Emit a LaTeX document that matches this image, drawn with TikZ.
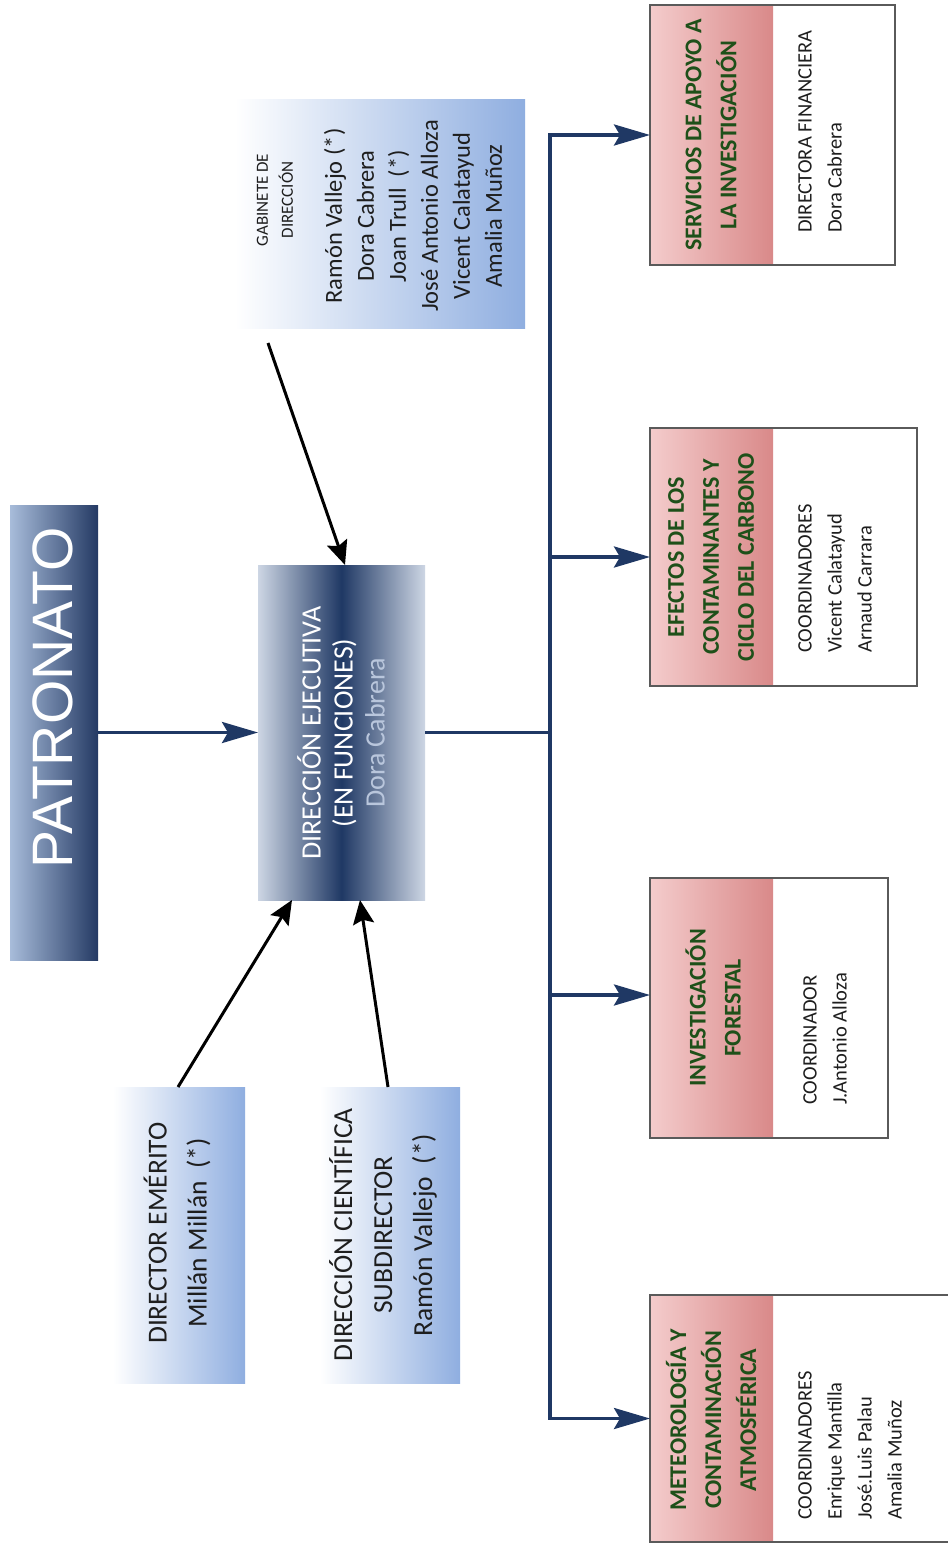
\documentclass[tikz,border=0pt]{standalone}
\usepackage{fontspec}
\setmainfont{Carlito}
\newfontfamily\arialf{Liberation Sans}
\usetikzlibrary{arrows.meta,calc}
\definecolor{navy}{RGB}{31,56,100}
\definecolor{patL}{RGB}{168,188,218}
\definecolor{patR}{RGB}{36,58,100}
\definecolor{dirE}{RGB}{205,214,228}
\definecolor{lblue}{RGB}{143,174,224}
\definecolor{redL}{RGB}{244,204,204}
\definecolor{redR}{RGB}{217,137,137}
\definecolor{tgreen}{RGB}{30,80,25}
\definecolor{bord}{RGB}{90,90,90}
\definecolor{dorac}{RGB}{185,198,220}
\definecolor{ink}{RGB}{30,30,30}
\begin{document}
\begin{tikzpicture}[x=1pt,y=-1pt,
 box/.style={rectangle, inner sep=0, outer sep=0, anchor=north west},
 bluebox/.style={box, left color=white, right color=lblue},
 redpart/.style={box, left color=redL, right color=redR},
 outline/.style={box, draw=bord, line width=1.3pt},
 txt/.style={rotate=90, align=center, inner sep=0},
 title/.style={txt, text=tgreen, font=\fontsize{24}{35}\selectfont\bfseries},
 content/.style={rotate=90, align=left, inner sep=0, anchor=north west, text=ink, font=\fontsize{20.5}{30}\selectfont},
 navyline/.style={draw=navy, line width=3.5pt},
 navyarrow/.style={navyline, -{Stealth[length=36pt,width=21pt,inset=6pt]}},
 blackarrow/.style={draw=black, line width=3pt, -{Stealth[length=24pt,width=21pt,inset=4pt]}},
]
\fill[white] (0,0) rectangle (947,1546);
\useasboundingbox (0,0) rectangle (947,1546);

% PATRONATO
\node[box, minimum width=88pt, minimum height=455pt, left color=patL, right color=patR] (pat) at (10,505) {};
\node[txt, text=white, font=\arialf\fontsize{57}{64}\selectfont] (patt) at (53,698) {PATRONATO};

% Direccion ejecutiva
\node[box, minimum width=167pt, minimum height=335pt, left color=dirE, right color=dirE, middle color=navy] (dir) at (258,565) {};
\node[txt, text=white, font=\fontsize{28}{32}\selectfont] (dirt) at (341,733) {DIRECCIÓN EJECUTIVA\\(EN FUNCIONES)\\\textcolor{dorac}{Dora Cabrera}};

% Gabinete
\node[bluebox, minimum width=290pt, minimum height=228pt] (gab) at (235,100) {};
\node[txt, text=ink, font=\fontsize{17}{25}\selectfont] (gabh) at (275,200) {GABINETE DE\\DIRECCIÓN};
\node[txt, text=ink, font=\fontsize{24.5}{32}\selectfont] (gabn) at (413,216) {Ramón Vallejo (*)\\Dora Cabrera\\Joan Trull\ \ (*)\\José Antonio Alloza\\Vicent Calatayud\\Amalia Muñoz};

% Director emerito
\node[bluebox, minimum width=132pt, minimum height=296pt] (emer) at (113,1087) {};
\node[txt, text=ink, font=\fontsize{27.5}{40}\selectfont] (emert) at (177,1233) {DIRECTOR EMÉRITO\\Millán Millán\ \ (*)};

% Direccion cientifica
\node[bluebox, minimum width=140pt, minimum height=296pt] (cien) at (320,1087) {};
\node[txt, text=ink, font=\fontsize{27.5}{40}\selectfont] (cient) at (383,1235) {DIRECCIÓN CIENTÍFICA\\SUBDIRECTOR\\Ramón Vallejo\ \ (*)};

% Servicios
\node[redpart, minimum width=123pt, minimum height=260pt] (servr) at (650,5) {};
\node[outline, minimum width=245pt, minimum height=260pt] (serv) at (650,5) {};
\node[title] (servt) at (711,135) {SERVICIOS DE APOYO A\\LA INVESTIGACIÓN};
\node[content] (servc) at (798,233) {DIRECTORA FINANCIERA\\Dora Cabrera};

% Efectos
\node[redpart, minimum width=123pt, minimum height=258pt] (efecr) at (650,428) {};
\node[outline, minimum width=267pt, minimum height=258pt] (efec) at (650,428) {};
\node[title] (efect) at (711,557) {EFECTOS DE LOS\\CONTAMINANTES Y\\CICLO DEL CARBONO};
\node[content] (efecc) at (798,653) {COORDINADORES\\Vicent Calatayud\\Arnaud Carrara};

% Forestal
\node[redpart, minimum width=123pt, minimum height=260pt] (forer) at (650,878) {};
\node[outline, minimum width=238pt, minimum height=260pt] (fore) at (650,878) {};
\node[title] (foret) at (713,1008) {INVESTIGACIÓN\\FORESTAL};
\node[content] (forec) at (803,1105) {COORDINADOR\\J.Antonio Alloza};

% Meteorologia
\node[redpart, minimum width=123pt, minimum height=247pt] (meteor) at (650,1295) {};
\node[outline, minimum width=310pt, minimum height=247pt] (meteo) at (650,1295) {};
\node[title] (meteot) at (711,1420) {METEOROLOGÍA Y\\CONTAMINACIÓN\\ATMOSFÉRICA};
\node[content] (meteoc) at (798,1520) {COORDINADORES\\Enrique Mantilla\\José.Luis Palau\\Amalia Muñoz};

% connectors
\coordinate (tr) at (550,735);
\draw[navyarrow] (pat.east) -- (dir.west);
\draw[navyline] (dir.east) -- (dir.east -| tr);
\draw[navyarrow] (tr) |- (serv.west);
\draw[navyarrow] (tr) |- (efec.west);
\draw[navyarrow] (tr) |- ($(fore.west)+(0,-13)$);
\draw[navyarrow] (tr) |- (meteo.west);

\coordinate (g1) at ($(gab.south west)+(33,15)$);
\coordinate (d1) at ($(dir.north west)+(87,0)$);
\coordinate (e1) at ($(emer.north west)+(65,0)$);
\coordinate (d2) at ($(dir.south west)+(34,0)$);
\coordinate (c1) at ($(cien.north west)+(68,0)$);
\coordinate (d3) at ($(dir.south west)+(102,0)$);
\draw[blackarrow] (g1) -- (d1);
\draw[blackarrow] (e1) -- (d2);
\draw[blackarrow] (c1) -- (d3);
\end{tikzpicture}
\end{document}
